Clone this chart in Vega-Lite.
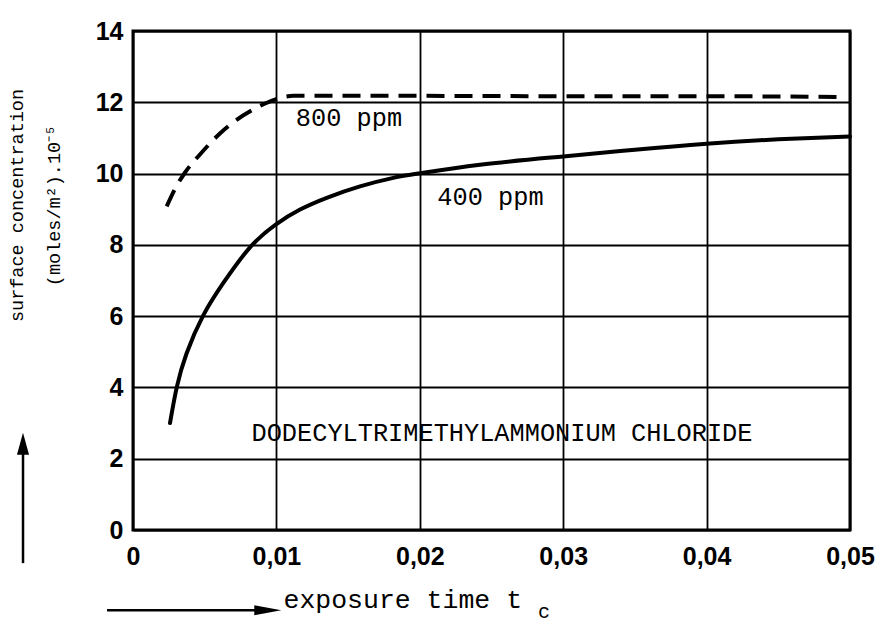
{
  "$schema": "https://vega.github.io/schema/vega-lite/v6.json",
  "width": 717,
  "height": 499,
  "autosize": {"type": "none"},
  "padding": {"left": 133, "top": 31, "right": 30, "bottom": 96},
  "background": "white",
  "config": {
    "view": {"stroke": "black", "strokeWidth": 3},
    "axis": {
      "grid": true, "gridColor": "black", "gridWidth": 1.8, "gridOpacity": 1,
      "ticks": false, "domain": false,
      "labelFont": "Liberation Sans", "labelFontWeight": "bold", "labelFontSize": 25, "labelColor": "black",
      "labelFlush": false, "labelOverlap": false,
      "titleFont": "Liberation Mono", "titleFontWeight": "normal", "titleColor": "black"
    }
  },
  "datasets": {
    "solid": [
      {"series": "400 ppm", "t": 0.00258, "c": 3.0},
      {"series": "400 ppm", "t": 0.00305, "c": 4.0},
      {"series": "400 ppm", "t": 0.00374, "c": 4.96},
      {"series": "400 ppm", "t": 0.0049, "c": 6.02},
      {"series": "400 ppm", "t": 0.0063, "c": 6.93},
      {"series": "400 ppm", "t": 0.00816, "c": 7.93},
      {"series": "400 ppm", "t": 0.00995, "c": 8.57},
      {"series": "400 ppm", "t": 0.01165, "c": 8.99},
      {"series": "400 ppm", "t": 0.01351, "c": 9.32},
      {"series": "400 ppm", "t": 0.01583, "c": 9.64},
      {"series": "400 ppm", "t": 0.01815, "c": 9.88},
      {"series": "400 ppm", "t": 0.0199, "c": 10.0},
      {"series": "400 ppm", "t": 0.0242, "c": 10.25},
      {"series": "400 ppm", "t": 0.0300, "c": 10.48},
      {"series": "400 ppm", "t": 0.0350, "c": 10.67},
      {"series": "400 ppm", "t": 0.0400, "c": 10.84},
      {"series": "400 ppm", "t": 0.0450, "c": 10.96},
      {"series": "400 ppm", "t": 0.0500, "c": 11.04}
    ],
    "dashed": [
      {"series": "800 ppm", "t": 0.00235, "c": 9.08},
      {"series": "800 ppm", "t": 0.0029, "c": 9.55},
      {"series": "800 ppm", "t": 0.00363, "c": 10.03},
      {"series": "800 ppm", "t": 0.0047, "c": 10.55},
      {"series": "800 ppm", "t": 0.0061, "c": 11.14},
      {"series": "800 ppm", "t": 0.0072, "c": 11.5},
      {"series": "800 ppm", "t": 0.0084, "c": 11.8},
      {"series": "800 ppm", "t": 0.0093, "c": 11.98},
      {"series": "800 ppm", "t": 0.0112, "c": 12.18},
      {"series": "800 ppm", "t": 0.0200, "c": 12.18},
      {"series": "800 ppm", "t": 0.0300, "c": 12.17},
      {"series": "800 ppm", "t": 0.0400, "c": 12.17},
      {"series": "800 ppm", "t": 0.0493, "c": 12.15}
    ],
    "labels": [
      {"label": "800 ppm", "t": 0.01506, "c": 11.57},
      {"label": "400 ppm", "t": 0.02493, "c": 9.33},
      {"label": "DODECYLTRIMETHYLAMMONIUM CHLORIDE", "t": 0.02573, "c": 2.72}
    ],
    "shafts": [
      {"t": -0.00181, "t2": 0.0094, "c": -2.25, "c2": -2.25},
      {"t": -0.00767, "t2": -0.00767, "c": -0.93, "c2": 2.42}
    ],
    "headRight": [{"t": 0.0094, "c": -2.25}],
    "headUp": [{"t": -0.00767, "c": 2.42}],
    "subscript": [{"label": "c", "t": 0.02866, "c": -2.3}]
  },
  "layer": [
    {
      "data": {"name": "solid"},
      "mark": {"type": "line", "interpolate": "natural", "strokeWidth": 4, "color": "black", "strokeCap": "round"},
      "encoding": {
        "x": {
          "field": "t", "type": "quantitative",
          "scale": {"domain": [0, 0.05], "nice": false, "zero": false},
          "axis": {
            "values": [0, 0.01, 0.02, 0.03, 0.04, 0.05],
            "labelExpr": "datum.value == 0 ? '0' : replace(format(datum.value, '.2f'), '.', ',')",
            "labelPadding": 14,
            "title": "exposure time t",
            "titleFontSize": 26.5,
            "titleAngle": 0,
            "titleAlign": "left",
            "titleBaseline": "middle",
            "titleAnchor": null,
            "titleX": 150,
            "titleY": 69
          }
        },
        "y": {
          "field": "c", "type": "quantitative",
          "scale": {"domain": [0, 14], "nice": false, "zero": false},
          "axis": {
            "values": [0, 2, 4, 6, 8, 10, 12, 14],
            "labelPadding": 10,
            "title": ["surface concentration", "(moles/m²).10⁻⁵"],
            "titleFontSize": 18.5,
            "titleLineHeight": 37,
            "titleAngle": 270,
            "titleAlign": "center",
            "titleBaseline": "top",
            "titleAnchor": null,
            "titleX": -126,
            "titleY": 174
          }
        }
      }
    },
    {
      "data": {"name": "dashed"},
      "mark": {"type": "line", "interpolate": "monotone", "strokeWidth": 4, "color": "black", "strokeDash": [18, 10]},
      "encoding": {
        "x": {"field": "t", "type": "quantitative"},
        "y": {"field": "c", "type": "quantitative"}
      }
    },
    {
      "data": {"name": "labels"},
      "mark": {"type": "text", "font": "Liberation Mono", "fontSize": 25.3, "color": "black", "align": "center", "baseline": "middle"},
      "encoding": {
        "x": {"field": "t", "type": "quantitative"},
        "y": {"field": "c", "type": "quantitative"},
        "text": {"field": "label"}
      }
    },
    {
      "data": {"name": "subscript"},
      "mark": {"type": "text", "font": "Liberation Mono", "fontSize": 20, "color": "black", "align": "center", "baseline": "middle"},
      "encoding": {
        "x": {"field": "t", "type": "quantitative"},
        "y": {"field": "c", "type": "quantitative"},
        "text": {"field": "label"}
      }
    },
    {
      "data": {"name": "shafts"},
      "mark": {"type": "rule", "color": "black", "strokeWidth": 2.5},
      "encoding": {
        "x": {"field": "t", "type": "quantitative"},
        "x2": {"field": "t2"},
        "y": {"field": "c", "type": "quantitative"},
        "y2": {"field": "c2"}
      }
    },
    {
      "data": {"name": "headRight"},
      "mark": {"type": "point", "shape": "M1,0L-1,-0.37L-1,0.37Z", "size": 729, "filled": true, "opacity": 1, "color": "black"},
      "encoding": {
        "x": {"field": "t", "type": "quantitative"},
        "y": {"field": "c", "type": "quantitative"}
      }
    },
    {
      "data": {"name": "headUp"},
      "mark": {"type": "point", "shape": "M0,-1L0.55,1L-0.55,1Z", "size": 484, "filled": true, "opacity": 1, "color": "black"},
      "encoding": {
        "x": {"field": "t", "type": "quantitative"},
        "y": {"field": "c", "type": "quantitative"}
      }
    }
  ]
}
